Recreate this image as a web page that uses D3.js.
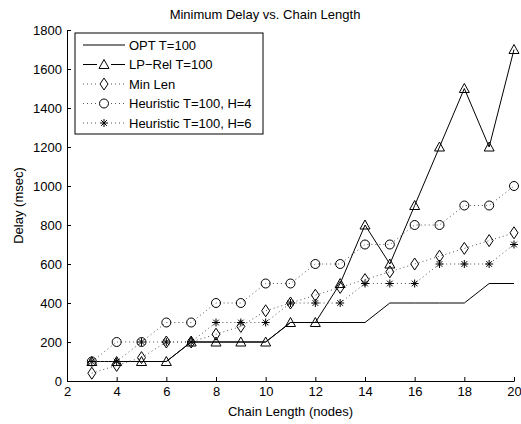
<!DOCTYPE html>
<html>
<head>
<meta charset="utf-8">
<script src="https://cdn.jsdelivr.net/npm/d3@7"></script>
<style>
  body { margin: 0; background: #fff; }
  text { font-family: "Liberation Sans", Arial, sans-serif; }
</style>
</head>
<body>
<div id="chart"></div>
<script>
// chain length (nodes)
const chainLen = [3, 4, 5, 6, 7, 8, 9, 10, 11, 12, 13, 14, 15, 16, 17, 18, 19, 20];
const optT100 = [100, 100, 100, 100, 200, 200, 200, 200, 300, 300, 300, 300, 400, 400, 400, 400, 500, 500];
const lpRelT100 = [100, 100, 100, 100, 200, 200, 200, 200, 300, 300, 500, 800, 600, 900, 1200, 1500, 1200, 1700];
const minLen = [40, 80, 120, 200, 200, 240, 280, 360, 400, 440, 480, 520, 560, 600, 640, 680, 720, 760];
const heurH4 = [100, 200, 200, 300, 300, 400, 400, 500, 500, 600, 600, 700, 700, 800, 800, 900, 900, 1000];
const heurH6 = [100, 100, 200, 200, 200, 300, 300, 300, 400, 400, 400, 500, 500, 500, 600, 600, 600, 700];
const xTicks = [2, 4, 6, 8, 10, 12, 14, 16, 18, 20];
const yTicks = [0, 200, 400, 600, 800, 1000, 1200, 1400, 1600, 1800];

const series = [
  { name: "OPT T=100", values: optT100, dash: null, marker: null },
  { name: "LP\u2212Rel T=100", values: lpRelT100, dash: null, marker: "triangle" },
  { name: "Min Len", values: minLen, dash: "1,3", marker: "diamond" },
  { name: "Heuristic T=100, H=4", values: heurH4, dash: "1,3", marker: "circle" },
  { name: "Heuristic T=100, H=6", values: heurH6, dash: "1,3", marker: "star" }
];

const W = 521, H = 424;
const margin = { top: 30, right: 7, bottom: 43, left: 67 };
const width = W - margin.left - margin.right;
const height = H - margin.top - margin.bottom;

const svg = d3.select("#chart").append("svg")
  .attr("width", W).attr("height", H);
const g = svg.append("g").attr("transform", `translate(${margin.left},${margin.top})`);

const x = d3.scaleLinear().domain([2, 20]).range([0, width]);
const y = d3.scaleLinear().domain([0, 1800]).range([height, 0]);

// axes (MATLAB style, ticks inside)
const xAxis = g.append("g").attr("transform", `translate(0,${height})`)
  .call(d3.axisBottom(x).tickValues(xTicks).tickFormat(d3.format("d"))
    .tickSizeInner(-4).tickSizeOuter(0).tickPadding(6));
const yAxis = g.append("g")
  .call(d3.axisLeft(y).tickValues(yTicks).tickFormat(d3.format("d"))
    .tickSizeInner(-4).tickSizeOuter(0).tickPadding(5));
[xAxis, yAxis].forEach(a => {
  a.select(".domain").attr("stroke", "#000");
  a.selectAll(".tick line").attr("stroke", "#000");
  a.selectAll(".tick text").attr("font-size", 13).attr("fill", "#000")
    .style("font-family", "'Liberation Sans', Arial, sans-serif");
});
yAxis.selectAll(".tick text").attr("dy", "0.35em");

// markers
function drawMarker(sel, type, cx, cy) {
  if (type === "triangle") {
    sel.append("path").attr("d", `M${cx},${cy - 5}L${cx + 5},${cy + 4}L${cx - 5},${cy + 4}Z`)
      .attr("fill", "none").attr("stroke", "#000").attr("stroke-width", 1);
  } else if (type === "diamond") {
    sel.append("path").attr("d", `M${cx},${cy - 6}L${cx + 4},${cy}L${cx},${cy + 6}L${cx - 4},${cy}Z`)
      .attr("fill", "none").attr("stroke", "#000").attr("stroke-width", 1);
  } else if (type === "circle") {
    sel.append("circle").attr("cx", cx).attr("cy", cy).attr("r", 4.5)
      .attr("fill", "none").attr("stroke", "#000").attr("stroke-width", 1);
  } else if (type === "star") {
    const r = 4;
    const d = [0, 45, 90, 135].map(a => {
      const t = a * Math.PI / 180;
      return `M${cx - r * Math.cos(t)},${cy - r * Math.sin(t)}L${cx + r * Math.cos(t)},${cy + r * Math.sin(t)}`;
    }).join("");
    sel.append("path").attr("d", d).attr("stroke", "#000").attr("stroke-width", 1);
  }
}

const line = d3.line().x((d, i) => x(chainLen[i])).y(d => y(d));

series.forEach(s => {
  const sg = g.append("g");
  sg.append("path").datum(s.values)
    .attr("d", line)
    .attr("fill", "none")
    .attr("stroke", s.dash ? "#555" : "#000")
    .attr("stroke-width", 1)
    .attr("stroke-dasharray", s.dash);
  if (s.marker) {
    s.values.forEach((v, i) => drawMarker(sg, s.marker, x(chainLen[i]), y(v)));
  }
});

// legend
const lg = svg.append("g").attr("transform", "translate(75,33)");
lg.append("rect").attr("width", 188).attr("height", 101)
  .attr("fill", "#fff").attr("stroke", "#000").attr("stroke-width", 1);
series.forEach((s, i) => {
  const ly = 12 + i * 19.5;
  lg.append("line").attr("x1", 8).attr("x2", 50).attr("y1", ly).attr("y2", ly)
    .attr("stroke", s.dash ? "#555" : "#000").attr("stroke-width", 1)
    .attr("stroke-dasharray", s.dash);
  if (s.marker) {
    const mg = lg.append("g");
    mg.append("rect").attr("x", 22).attr("y", ly - 6).attr("width", 14).attr("height", 12).attr("fill", "#fff");
    drawMarker(mg, s.marker, 29, ly);
  }
  lg.append("text").attr("x", 54).attr("y", ly).attr("dy", "0.35em")
    .attr("font-size", 13).text(s.name);
});

// title and labels
svg.append("text").attr("x", 265).attr("y", 19)
  .attr("text-anchor", "middle").attr("font-size", 13).text("Minimum Delay vs. Chain Length");
svg.append("text").attr("x", margin.left + width / 2).attr("y", 416)
  .attr("text-anchor", "middle").attr("font-size", 13).text("Chain Length (nodes)");
svg.append("text").attr("transform", `translate(23,${margin.top + height / 2}) rotate(-90)`)
  .attr("text-anchor", "middle").attr("font-size", 13).text("Delay (msec)");
</script>
</body>
</html>
